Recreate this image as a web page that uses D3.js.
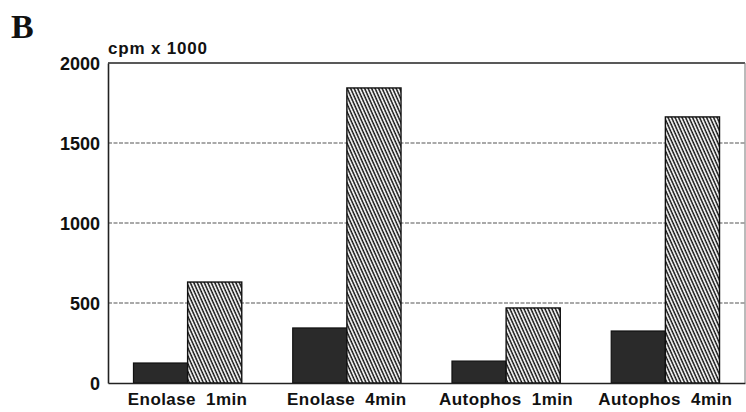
<!DOCTYPE html>
<html>
<head>
<meta charset="utf-8">
<script src="https://d3js.org/d3.v7.min.js"></script>
<style>
  body { margin: 0; background: #fff; }
  text { font-family: "Liberation Sans", Arial, sans-serif; font-weight: bold; fill: #111; }
</style>
</head>
<body>
<svg width="746" height="412"></svg>
<script>
var categories = ["Enolase  1min", "Enolase  4min", "Autophos  1min", "Autophos  4min"];
var series = ["solid", "hatched"];
var solidValues = [125, 344, 137, 325];
var hatchedValues = [631, 1844, 469, 1663];
var yTicks = [0, 500, 1000, 1500, 2000];

var svg = d3.select("svg");
var margin = {left: 108, right: 1, top: 63, bottom: 29};
var width = 746 - margin.left - margin.right,
    height = 412 - margin.top - margin.bottom;

var defs = svg.append("defs");
defs.append("pattern")
    .attr("id", "hatch")
    .attr("patternUnits", "userSpaceOnUse")
    .attr("width", 3.2).attr("height", 4)
    .attr("patternTransform", "rotate(-24)")
  .call(function(p) {
    p.append("rect").attr("width", 3.2).attr("height", 4).attr("fill", "#fff");
    p.append("line").attr("x1", 1).attr("y1", 0).attr("x2", 1).attr("y2", 4)
      .attr("stroke", "#111").attr("stroke-width", 1.5);
  });

var g = svg.append("g").attr("transform", "translate(" + margin.left + "," + margin.top + ")");

var x0 = d3.scaleBand().domain(categories).range([0, width])
    .paddingInner(0.32).paddingOuter(0.16);
var x1 = d3.scaleBand().domain(series).range([0, x0.bandwidth()]);
var y = d3.scaleLinear().domain([0, 2000]).range([height, 0]);

// gridlines
g.selectAll(".grid").data(yTicks.filter(function(d) { return d > 0 && d < 2000; }))
  .enter().append("line")
    .attr("x1", 0).attr("x2", width)
    .attr("y1", function(d) { return y(d); }).attr("y2", function(d) { return y(d); })
    .attr("stroke", "#555").attr("stroke-width", 1.2)
    .attr("stroke-dasharray", "4,1.5");

// frame
g.append("line").attr("x1", 0).attr("x2", width).attr("y1", y(2000)).attr("y2", y(2000))
  .attr("stroke", "#222").attr("stroke-width", 1.6);
g.append("line").attr("x1", width).attr("x2", width).attr("y1", y(2000)).attr("y2", y(0))
  .attr("stroke", "#777").attr("stroke-width", 1);

var groups = g.selectAll(".grp").data(categories).enter().append("g")
    .attr("transform", function(d) { return "translate(" + x0(d) + ",0)"; });

groups.append("rect")
    .attr("x", x1("solid"))
    .attr("y", function(d, i) { return y(solidValues[i]); })
    .attr("width", x1.bandwidth())
    .attr("height", function(d, i) { return y(0) - y(solidValues[i]); })
    .attr("fill", "#2a2a2a").attr("stroke", "#111").attr("stroke-width", 1.2);

groups.append("rect")
    .attr("x", x1("hatched"))
    .attr("y", function(d, i) { return y(hatchedValues[i]); })
    .attr("width", x1.bandwidth())
    .attr("height", function(d, i) { return y(0) - y(hatchedValues[i]); })
    .attr("fill", "url(#hatch)").attr("stroke", "#111").attr("stroke-width", 1.4);

// axes
var yAxis = g.append("g").call(d3.axisLeft(y).tickValues(yTicks).tickFormat(d3.format("d"))
    .tickSize(0).tickPadding(8));
yAxis.select(".domain").attr("stroke", "#222").attr("stroke-width", 1.6);
yAxis.selectAll("text").attr("font-size", 18).attr("font-family", null).attr("dy", "0.36em");

var xAxis = g.append("g").attr("transform", "translate(0," + height + ")")
    .call(d3.axisBottom(x0).tickSize(0).tickPadding(10));
xAxis.select(".domain").attr("stroke", "#222").attr("stroke-width", 1.6);
xAxis.selectAll("text").attr("font-size", 17).attr("font-family", null)
    .style("white-space", "pre").attr("letter-spacing", 0.4);

svg.append("text").attr("x", margin.left).attr("y", 54)
    .attr("font-size", 17).attr("letter-spacing", 0.8).text("cpm x 1000");

svg.append("text").attr("x", 11).attr("y", 38)
    .style("font-family", "'Liberation Serif', 'Times New Roman', serif")
    .attr("font-size", 34).text("B");
</script>
</body>
</html>
